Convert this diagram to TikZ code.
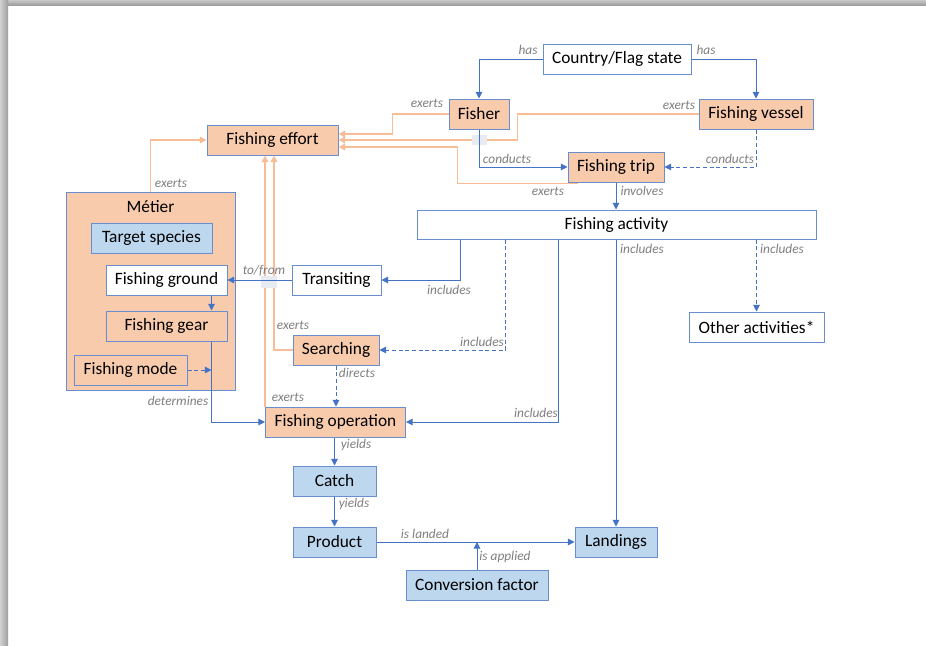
\documentclass[tikz,border=0pt]{standalone}
\usepackage{fontspec}
\setmainfont{Carlito}
\usetikzlibrary{arrows.meta,calc,positioning,shapes}
\newlength{\px}\setlength{\px}{0.75pt}
\definecolor{boxblue}{HTML}{BDD7EE}
\definecolor{boxorange}{HTML}{F8CBAD}
\definecolor{edgeblue}{HTML}{4472C4}
\definecolor{lineorange}{HTML}{F4B183}
\definecolor{labelgray}{HTML}{7F7F7F}
\definecolor{bridgegray}{HTML}{E8ECF2}

\begin{document}
\begin{tikzpicture}[x=0.75pt, y=-0.75pt,
  box/.style={draw=edgeblue!80, line width=0.75pt, minimum height=30\px, inner sep=0pt, font=\fontsize{13}{15}\selectfont},
  white box/.style={box, fill=white},
  orange box/.style={box, fill=boxorange},
  blue box/.style={box, fill=boxblue},
  rel/.style={-{Triangle[length=5pt,width=5pt]}, draw=edgeblue, line width=0.75pt},
  rel dashed/.style={rel, dash pattern=on 3pt off 2pt},
  effort/.style={-{Triangle[length=5pt,width=5pt]}, draw=lineorange!85, line width=1.4pt},
  lbl/.style={font=\fontsize{10}{12}\selectfont\itshape, text=labelgray, inner sep=1pt}]

  % page and its shadow
  \useasboundingbox (0,0) rectangle (926,646);
  \fill[white] (0,0) rectangle (926,646);
  \shade[top color=black!22, bottom color=black!38] (0,0) rectangle (926,5);
  \shade[left color=black!18, right color=black!38] (0,0) rectangle (8,646);

  % metier
  \node[orange box, minimum width=169\px, minimum height=198\px] (metier) at (150.5,291) {};
  \node[font=\fontsize{13}{15}\selectfont] (metiertitle) at (150.5,207) {Métier};
  \node[blue box, minimum width=121\px] (target) at (151.5,238) {Target species};
  \node[white box, minimum width=121\px] (ground) at (166.5,280) {Fishing ground};
  \node[orange box, minimum width=121\px] (gear) at (166.5,326) {Fishing gear};
  \node[orange box, minimum width=113\px] (mode) at (130.5,370) {Fishing mode};

  % actors and activities
  \node[white box, minimum width=148\px] (country) at (617,59) {Country/Flag state};
  \node[orange box, minimum width=60\px] (fisher) at (479,114) {Fisher};
  \node[orange box, minimum width=114\px] (vessel) at (756,114) {Fishing vessel};
  \node[orange box, minimum width=131\px] (effort) at (272.5,140) {Fishing effort};
  \node[orange box, minimum width=96\px] (trip) at (616,167) {Fishing trip};
  \node[white box, minimum width=399\px, minimum height=29\px] (activity) at (616.5,224.5) {Fishing activity};
  \node[white box, minimum width=89\px] (transiting) at (336.5,280) {Transiting};
  \node[orange box, minimum width=86\px] (searching) at (336,350) {Searching};
  \node[orange box, minimum width=140\px] (operation) at (335.5,422) {Fishing operation};
  \node[white box, minimum width=135\px] (other) at (756.5,327) {Other activities*};

  % outputs
  \node[blue box, minimum width=83\px] (catch) at (334.5,481) {Catch};
  \node[blue box, minimum width=83\px] (product) at (334.5,542) {Product};
  \node[blue box, minimum width=82\px] (landings) at (616,542) {Landings};
  \node[blue box, minimum width=142\px] (conversion) at (477,585) {Conversion factor};

  % effort lines
  \draw[effort] (fisher.west) -- ++(-56,0) |- ($(effort.east)+(0,-6)$);
  \draw[effort] (vessel.west) -- ++(-181,0) |- (effort.east);
  \draw[effort] ($(trip.south west)+(10,1)$) -| ($(effort.east)+(119,7)$) -- ($(effort.east)+(0,7)$);
  \draw[effort] (metier.north) |- (effort.west);
  \draw[effort] (operation.north west) -- (operation.north west |- effort.south);
  \draw[effort] (searching.west) -| ($(effort.south)+(1.5,0)$);

  % line jumps
  \fill[bridgegray] (472,135) rectangle (487,145);
  \fill[bridgegray] (261,276) rectangle (277,288);

  % relations
  \draw[rel] (country.west) -| (fisher.north);
  \draw[rel] (country.east) -| (vessel.north);
  \draw[rel] (fisher.south) |- (trip.west);
  \draw[rel dashed] (vessel.south) |- (trip.east);
  \draw[rel] (trip.south) -- (trip.south |- activity.north);
  \draw[rel] (transiting.west) -- (ground.east);
  \draw[rel] ($(activity.south west)+(44,0)$) |- (transiting.east);
  \draw[rel dashed] ($(activity.south west)+(89,0)$) |- (searching.east);
  \draw[rel] ($(activity.south west)+(142,0)$) |- (operation.east);
  \draw[rel] (activity.south -| landings.north) -- (landings.north);
  \draw[rel dashed] (activity.south -| other.north) -- (other.north);
  \draw[rel dashed] (searching.south) -- (searching.south |- operation.north);
  \coordinate (geardrop) at ($(gear.south east)+(-16,0)$);
  \draw[rel] ($(ground.south east)+(-16,0)$) -- ($(gear.north east)+(-16,0)$);
  \draw[rel] (geardrop) |- (operation.west);
  \draw[rel dashed] (mode.east) -- (mode.east -| geardrop);
  \draw[rel] (operation.south -| catch.north) -- (catch.north);
  \draw[rel] (catch.south) -- (product.north);
  \draw[rel] (product.east) -- (landings.west);
  \draw[rel] (conversion.north) -- (conversion.north |- product.east);

  % labels
  \node[lbl] (lhasf) at (528,50) {has};
  \node[lbl] (lhasv) at (706,50) {has};
  \node[lbl] (lexf) at (427,103) {exerts};
  \node[lbl] (lexv) at (679,105) {exerts};
  \node[lbl] (lconf) at (507,159) {conducts};
  \node[lbl] (lconv) at (730,159) {conducts};
  \node[lbl] (lext) at (548,191) {exerts};
  \node[lbl] (linv) at (642,191) {involves};
  \node[lbl] (lexm) at (171,183) {exerts};
  \node[lbl] (ltofrom) at (264,271) {to/from};
  \node[lbl] (linct) at (449,290) {includes};
  \node[lbl] (lincs) at (482,342) {includes};
  \node[lbl] (linco) at (536,413) {includes};
  \node[lbl] (lincl) at (642,249) {includes};
  \node[lbl] (linca) at (782,249) {includes};
  \node[lbl] (lexs) at (293,325) {exerts};
  \node[lbl] (lexo) at (288,397) {exerts};
  \node[lbl] (ldir) at (357,373) {directs};
  \node[lbl] (ldet) at (178,401) {determines};
  \node[lbl] (lyc) at (356,445) {yields};
  \node[lbl] (lyp) at (354,504) {yields};
  \node[lbl] (lland) at (425,534) {is landed};
  \node[lbl] (lapp) at (505,557) {is applied};
\end{tikzpicture}
\end{document}
